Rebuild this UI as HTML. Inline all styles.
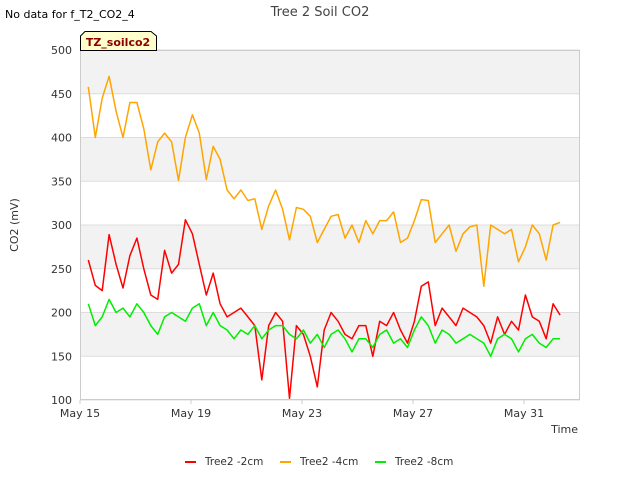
<!DOCTYPE html>
<html><head><meta charset="utf-8"><style>
body{margin:0;background:#fff;font-family:"DejaVu Sans","Liberation Sans",sans-serif;}
svg text{font-family:"DejaVu Sans","Liberation Sans",sans-serif;}
</style></head><body>
<svg id="chart" width="640" height="480" viewBox="0 0 640 480">
<text x="5" y="18" font-size="11" fill="#000">No data for f_T2_CO2_4</text>
<text x="320" y="16" font-size="13" fill="#444" text-anchor="middle">Tree 2 Soil CO2</text>
<g id="plot"></g>
<g>
<path d="M80.5,50.5 V36 L85,31.5 H151 L156.5,36 V50.5 Z" fill="#ffffcc" stroke="#000"/>
<text x="118" y="46" font-size="11" font-weight="bold" fill="#8b0000" text-anchor="middle">TZ_soilco2</text>
</g>
<text transform="translate(18,225) rotate(-90)" font-size="11" fill="#333" text-anchor="middle">CO2 (mV)</text>
<text x="578" y="433" font-size="11" fill="#333" text-anchor="end">Time</text>
<g id="legend"></g>
</svg>
<script>
const times=[0.3,0.55,0.8,1.05,1.3,1.55,1.8,2.05,2.3,2.55,2.8,3.05,3.3,3.55,3.8,4.05,4.3,4.55,4.8,5.05,5.3,5.55,5.8,6.05,6.3,6.55,6.8,7.05,7.3,7.55,7.8,8.05,8.3,8.55,8.8,9.05,9.3,9.55,9.8,10.05,10.3,10.55,10.8,11.05,11.3,11.55,11.8,12.05,12.3,12.55,12.8,13.05,13.3,13.55,13.8,14.05,14.3,14.55,14.8,15.05,15.3,15.55,15.8,16.05,16.3,16.55,16.8,17.05,17.3];
const red=[260,231,225,289,255,228,265,285,250,220,215,271,245,255,306,290,255,220,245,210,195,200,205,195,185,123,185,200,190,102,185,175,150,115,180,200,190,175,170,185,185,150,190,185,200,180,165,190,230,235,185,205,195,185,205,200,195,185,165,195,175,190,180,220,195,190,170,210,197];
const orange=[458,400,445,470,430,400,440,440,410,363,395,405,395,351,400,426,405,352,390,375,340,330,340,328,330,295,322,340,318,283,320,318,310,280,295,310,312,285,300,280,305,290,305,305,315,280,285,305,329,328,280,290,300,270,290,298,300,230,300,295,290,295,258,275,300,290,260,300,303];
const green=[210,185,195,215,200,205,195,210,200,185,175,195,200,195,190,205,210,185,200,185,180,170,180,175,185,170,180,185,185,175,170,180,165,175,160,175,180,170,155,170,170,160,175,180,165,170,160,180,195,185,165,180,175,165,170,175,170,165,150,170,175,170,155,170,175,165,160,170,170];
const yTicks=[100,150,200,250,300,350,400,450,500];
const xTickDays=[0,4,8,12,16];
const xTickLabels=["May 15","May 19","May 23","May 27","May 31"];
const seriesNames=["Tree2 -2cm","Tree2 -4cm","Tree2 -8cm"];
const seriesColors=["#ff0000","#ffa500","#00ee00"];

const L=80,R=580,T=50,B=400;
const X=d=>L+d*27.75;
const Y=v=>B-(v-100)*(B-T)/400;
const NS="http://www.w3.org/2000/svg";
function mk(tag,attrs,parent){const e=document.createElementNS(NS,tag);for(const k in attrs)e.setAttribute(k,attrs[k]);parent.appendChild(e);return e;}
const plot=document.getElementById('plot');
for(let i=0;i<yTicks.length-1;i++){
  if(i%2===1){
    const b=mk('rect',{x:L,y:Y(yTicks[i+1]),width:R-L,height:Y(yTicks[i])-Y(yTicks[i+1]),fill:'#f2f2f2'},plot);
    
    
  }
}
yTicks.forEach(v=>{
  const g=mk('line',{x1:L,x2:R,y1:Y(v),y2:Y(v),stroke:'#dddddd','stroke-width':1},plot);
  
  
  const t=mk('text',{x:L-8,y:Y(v)+4,'font-size':11,fill:'#333','text-anchor':'end'},plot);
  t.textContent=v;
  
  
});
xTickDays.forEach((d,i)=>{
  const t=mk('text',{x:X(d),y:B+17,'font-size':11,fill:'#333','text-anchor':'middle'},plot);
  t.textContent=xTickLabels[i];
  
  
  const tk=mk('line',{x1:X(d),x2:X(d),y1:B,y2:B+4,stroke:'#ccc'},plot);
  
  
});
const fr=mk('rect',{x:L+0.5,y:T+0.5,width:R-L-1,height:B-T-1,fill:'none',stroke:'#cccccc'},plot);


[orange,red,green].forEach((s,k)=>{
  const idx=[1,0,2][k];
  const p=mk('polyline',{points:s.map((v,i)=>X(times[i]).toFixed(1)+','+Y(v).toFixed(1)).join(' '),fill:'none',stroke:seriesColors[idx],'stroke-width':1.5,'stroke-linejoin':'round'},plot);
  
  
});
const leg=document.getElementById('legend');
const lx=[185,280,375];
seriesNames.forEach((n,i)=>{
  const l=mk('line',{x1:lx[i],x2:lx[i]+11,y1:462,y2:462,stroke:seriesColors[i],'stroke-width':2},leg);
  
  
  const t=mk('text',{x:lx[i]+20,y:465,'font-size':10.5,fill:'#333'},leg);
  t.textContent=n;
  
  
});
</script>
</body></html>
